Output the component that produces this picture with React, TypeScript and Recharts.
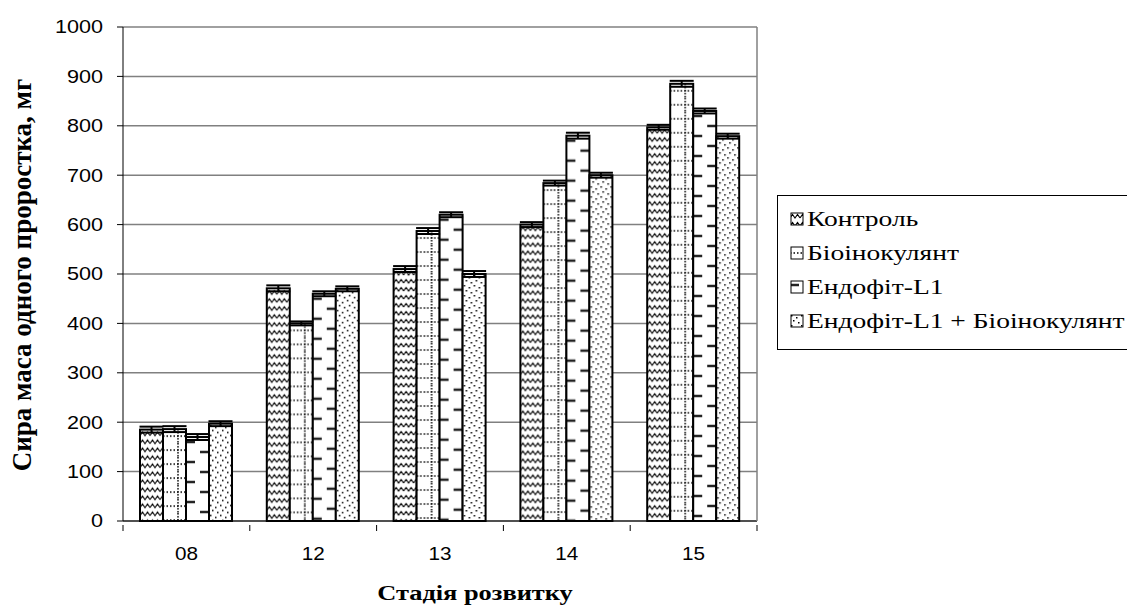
import { Bar, BarChart, CartesianGrid, ErrorBar, XAxis, YAxis } from "recharts";

const stages = ["08", "12", "13", "14", "15"];
const control = [185, 471, 510, 600, 797];
const bioinoculant = [186, 400, 587, 684, 885];
const endophyte = [170, 460, 620, 780, 830];
const combined = [197, 470, 500, 700, 779];
const errControl = [6, 6, 6, 5, 5];
const errBio = [6, 4, 6, 5, 6];
const errEndo = [6, 5, 5, 6, 5];
const errComb = [5, 5, 6, 5, 5];
const yTicks = [0, 100, 200, 300, 400, 500, 600, 700, 800, 900, 1000];

const seriesNames = ["Контроль", "Біоінокулянт", "Ендофіт-L1", "Ендофіт-L1 + Біоінокулянт"];

const data = stages.map((s, i) => ({
  stage: s,
  control: control[i],
  bio: bioinoculant[i],
  endo: endophyte[i],
  comb: combined[i],
  eControl: errControl[i],
  eBio: errBio[i],
  eEndo: errEndo[i],
  eComb: errComb[i],
}));

const serif = "'Liberation Serif', 'Times New Roman', serif";
const sans = "'Liberation Sans', Arial, sans-serif";

const Patterns = () => (
  <svg width={0} height={0} style={{ position: "absolute" }}>
    <defs>
      <pattern id="pWave" patternUnits="userSpaceOnUse" width={10} height={8}>
        <rect width={10} height={8} fill="#fff" />
        <path d="M0 6 L2.5 2.5 L5 6 L7.5 2.5 L10 6" stroke="#000" strokeWidth={1.1} fill="none" />
      </pattern>
      <pattern id="pGrid" patternUnits="userSpaceOnUse" width={23} height={14}>
        <rect width={23} height={14} fill="#fff" />
        <line x1={15} y1={0} x2={15} y2={14} stroke="#000" strokeWidth={1.5} strokeDasharray="1.5 1.5" />
        <line x1={0} y1={7} x2={23} y2={7} stroke="#000" strokeWidth={1.5} strokeDasharray="1.5 2" />
      </pattern>
      <pattern id="pDash" patternUnits="userSpaceOnUse" width={23} height={20}>
        <rect width={23} height={20} fill="#fff" />
        <line x1={0} y1={5} x2={9} y2={5} stroke="#222" strokeWidth={2.5} />
        <line x1={14} y1={15} x2={23} y2={15} stroke="#222" strokeWidth={2.5} />
      </pattern>
      <pattern id="pDots" patternUnits="userSpaceOnUse" width={10} height={10}>
        <rect width={10} height={10} fill="#fff" />
        <rect x={1} y={1} width={1.5} height={1.5} fill="#000" />
        <rect x={6} y={3} width={1.5} height={1.5} fill="#000" />
        <rect x={3} y={6} width={1.5} height={1.5} fill="#000" />
        <rect x={8} y={8} width={1.5} height={1.5} fill="#000" />
      </pattern>
    </defs>
  </svg>
);

const makeShape = (pid: string) => (props: any) => {
  const { x, y, width, height } = props;
  if (!height || height <= 0) return <g />;
  return (
    <g transform={`translate(${x},${y})`}>
      <rect x={0} y={0} width={width} height={height} fill={`url(#${pid})`} stroke="#000" strokeWidth={2} />
    </g>
  );
};

const patternIds = ["pWave", "pGrid", "pDash", "pDots"];

const XTick = (props: any) => {
  const { x, y, payload, index } = props;
  const band = 126.8;
  return (
    <g>
      <line x1={x - band / 2} y1={y - 4} x2={x - band / 2} y2={y + 2} stroke="#000" />
      {index === stages.length - 1 && (
        <line x1={x + band / 2} y1={y - 4} x2={x + band / 2} y2={y + 2} stroke="#000" />
      )}
      <g transform={`translate(${x},${y + 31}) scale(1.15,1)`}>
        <text x={0} y={0} textAnchor="middle" fontFamily={sans} fontSize={18} fill="#000">
          {payload.value}
        </text>
      </g>
    </g>
  );
};

const YTick = (props: any) => {
  const { x, y, payload } = props;
  return (
    <g transform={`translate(${x},${y}) scale(1.2,1)`}>
      <text x={0} y={0} dy="0.36em" textAnchor="end" fontFamily={sans} fontSize={18} fill="#000">
        {payload.value}
      </text>
    </g>
  );
};

const YTitle = () => (
  <text
    x={0}
    y={0}
    transform="translate(31,275) rotate(-90)"
    textAnchor="middle"
    fontFamily={serif}
    fontWeight="bold"
    fontSize={27}
    fill="#000"
  >
    Сира маса одного проростка, мг
  </text>
);

const XTitle = () => (
  <g transform="translate(475,600) scale(1.2,1)">
    <text x={0} y={0} textAnchor="middle" fontFamily={serif} fontWeight="bold" fontSize={22} fill="#000">
      Стадія розвитку
    </text>
  </g>
);

const LegendBox = () => (
  <div
    style={{
      position: "absolute",
      left: 777,
      top: 195,
      width: 360,
      height: 155,
      border: "1px solid #000",
      boxSizing: "border-box",
      background: "#fff",
    }}
  >
    {seriesNames.map((n, i) => (
      <div key={n} style={{ position: "absolute", left: 12, top: 8 + i * 34, height: 30, display: "flex", alignItems: "center" }}>
        <svg width={14} height={14} style={{ marginRight: 3 }}>
          <rect x={1} y={1} width={12} height={12} fill={`url(#${patternIds[i]})`} stroke="#000" strokeWidth={1} />
        </svg>
        <span
          style={{
            fontFamily: serif,
            fontSize: 22,
            color: "#000",
            whiteSpace: "nowrap",
            display: "inline-block",
            transform: "scaleX(1.25)",
            transformOrigin: "left center",
          }}
        >
          {n}
        </span>
      </div>
    ))}
  </div>
);

export default function App() {
  return (
    <div style={{ position: "absolute", left: 0, top: 0, width: 1127, height: 608, background: "#fff", overflow: "hidden" }}>
      <Patterns />
      <BarChart
        width={1127}
        height={608}
        data={data}
        margin={{ top: 27, right: 370, bottom: 47, left: 0 }}
        barGap={0}
        barCategoryGap={17}
      >
        <CartesianGrid vertical={false} stroke="#808080" strokeWidth={1.5} />
        <XAxis
          dataKey="stage"
          height={40}
          tickLine={false}
          axisLine={{ stroke: "#000" }}
          tick={<XTick />}
          interval={0}
          label={<XTitle />}
        />
        <YAxis
          width={123}
          domain={[0, 1000]}
          ticks={yTicks}
          interval={0}
          tickSize={6}
          tickMargin={14}
          axisLine={{ stroke: "#000" }}
          tickLine={{ stroke: "#000" }}
          tick={<YTick />}
          label={<YTitle />}
        />
        <Bar dataKey="control" name={seriesNames[0]} shape={makeShape("pWave")} isAnimationActive={false}>
          <ErrorBar dataKey="eControl" width={12} stroke="#000" strokeWidth={2} />
        </Bar>
        <Bar dataKey="bio" name={seriesNames[1]} shape={makeShape("pGrid")} isAnimationActive={false}>
          <ErrorBar dataKey="eBio" width={12} stroke="#000" strokeWidth={2} />
        </Bar>
        <Bar dataKey="endo" name={seriesNames[2]} shape={makeShape("pDash")} isAnimationActive={false}>
          <ErrorBar dataKey="eEndo" width={12} stroke="#000" strokeWidth={2} />
        </Bar>
        <Bar dataKey="comb" name={seriesNames[3]} shape={makeShape("pDots")} isAnimationActive={false}>
          <ErrorBar dataKey="eComb" width={12} stroke="#000" strokeWidth={2} />
        </Bar>
      </BarChart>
      <svg width={1127} height={608} style={{ position: "absolute", left: 0, top: 0, pointerEvents: "none" }}>
        <line x1={757} y1={27} x2={757} y2={521} stroke="#808080" strokeWidth={1.5} />
      </svg>
      <LegendBox />
    </div>
  );
}
